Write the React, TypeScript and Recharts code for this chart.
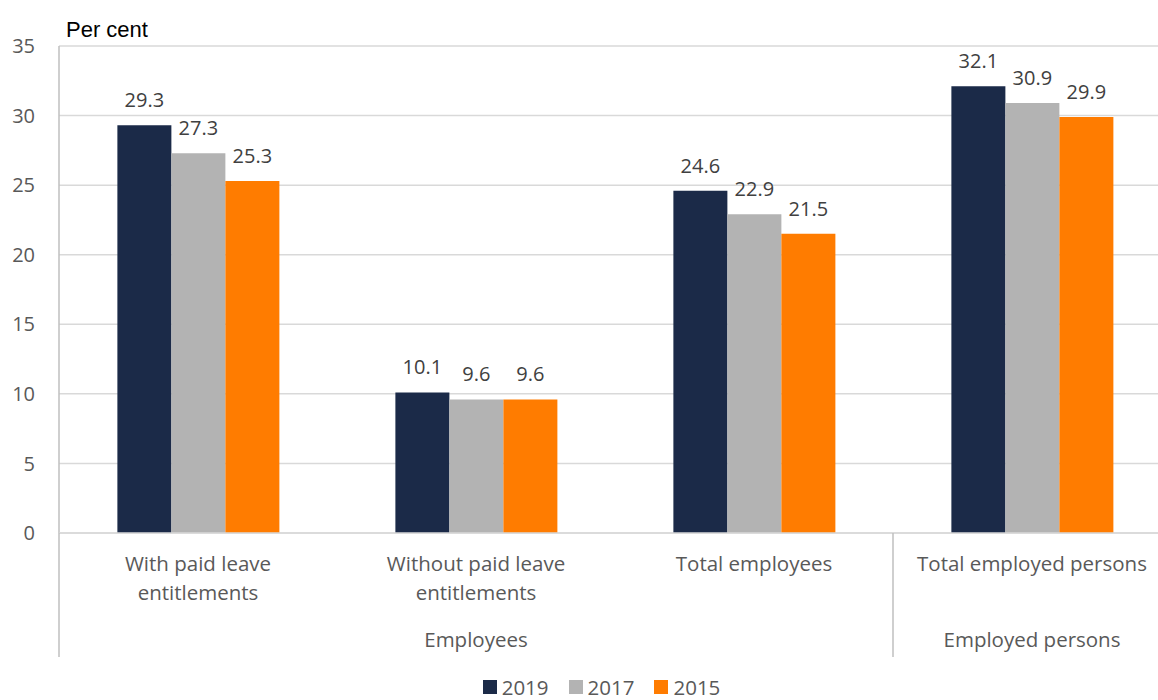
import { Bar, BarChart, CartesianGrid, LabelList, Legend, XAxis, YAxis } from 'recharts'

const categories = [
  'With paid leave entitlements',
  'Without paid leave entitlements',
  'Total employees',
  'Total employed persons',
]
const categoryLines = [
  ['With paid leave', 'entitlements'],
  ['Without paid leave', 'entitlements'],
  ['Total employees'],
  ['Total employed persons'],
]
const groups = ['Employees', 'Employees', 'Employees', 'Employed persons']

const years = ['2019', '2017', '2015']
const values2019 = [29.3, 10.1, 24.6, 32.1]
const values2017 = [27.3, 9.6, 22.9, 30.9]
const values2015 = [25.3, 9.6, 21.5, 29.9]
const yTicks = [0, 5, 10, 15, 20, 25, 30, 35]

const colors = ['#1b2a48', '#b3b3b3', '#ff7c00']
const font = '"Open Sans", sans-serif'

const data = categories.map((c, i) => ({
  category: c,
  v2019: values2019[i],
  v2017: values2017[i],
  v2015: values2015[i],
}))

const CHART_W = 1171
const CHART_H = 700
const Y_AXIS_W = 59
const BAND = (CHART_W - Y_AXIS_W) / categories.length

function CategoryTick(props: any) {
  const { x, y, payload } = props
  const i = categories.indexOf(payload.value)
  const lines = categoryLines[i] || []
  const g = groups[i]
  const start = groups.indexOf(g)
  const end = groups.lastIndexOf(g)
  return (
    <g>
      {lines.map((l, k) => (
        <text key={k} x={x} y={y + 38 + k * 29} textAnchor='middle' fill='#595959' fontSize={20.5} fontFamily={font}>
          {l}
        </text>
      ))}
      {i === start && (
        <>
          <line x1={x - BAND / 2} x2={x - BAND / 2} y1={y} y2={y + 124} stroke='#bfbfbf' strokeWidth={1.5} />
          <text x={x + ((end - start) / 2) * BAND} y={y + 114} textAnchor='middle' fill='#595959' fontSize={20.5} fontFamily={font}>
            {g}
          </text>
        </>
      )}
    </g>
  )
}

function LegendContent() {
  return (
    <div style={{ height: 43, display: 'flex', justifyContent: 'center', paddingLeft: 52, boxSizing: 'border-box' }}>
      <div style={{ display: 'flex', alignItems: 'center', marginTop: 17, height: 26, fontFamily: font, fontSize: 20.5, color: '#595959' }}>
        {years.map((yr, k) => (
          <div key={yr} style={{ display: 'flex', alignItems: 'center', marginRight: 20 }}>
            <span style={{ display: 'inline-block', width: 14, height: 14, background: colors[k], marginRight: 5 }} />
            <span>{yr}</span>
          </div>
        ))}
      </div>
    </div>
  )
}

function PerCentLabel(props: any) {
  const { viewBox } = props
  return (
    <text x={viewBox.x + viewBox.width + 7} y={viewBox.y - 9} fill='#000' fontSize={22} fontFamily='"Liberation Sans", Arial, sans-serif'>
      Per cent
    </text>
  )
}

export default function App() {
  return (
    <div style={{ position: 'absolute', left: 0, top: 0, width: 1158, height: 700, overflow: 'hidden', background: '#fff' }}>
      <BarChart
        width={CHART_W}
        height={CHART_H}
        data={data}
        margin={{ top: 46, right: 0, bottom: 0, left: 0 }}
        barCategoryGap='21%'
        barGap={0}
      >
        <CartesianGrid vertical={false} stroke='#d9d9d9' strokeWidth={1.5} />
        <YAxis
          width={Y_AXIS_W}
          domain={[0, 35]}
          ticks={yTicks}
          tickLine={false}
          tickSize={0}
          tickMargin={24}
          axisLine={{ stroke: '#bfbfbf', strokeWidth: 1.5 }}
          tick={{ fill: '#595959', fontSize: 20, fontFamily: font }}
          label={{ content: PerCentLabel }}
        />
        <XAxis
          dataKey='category'
          height={124}
          interval={0}
          tickLine={false}
          tickSize={0}
          tickMargin={0}
          axisLine={{ stroke: '#d9d9d9', strokeWidth: 1.5 }}
          tick={CategoryTick}
        />
        <Legend verticalAlign='bottom' content={LegendContent} />
        {years.map((yr, k) => (
          <Bar key={yr} dataKey={'v' + yr} name={yr} fill={colors[k]} isAnimationActive={false}>
            <LabelList
              dataKey={'v' + yr}
              position='top'
              offset={18}
              fill='#404040'
              fontSize={20}
              fontFamily={font}
              formatter={(v: any) => Number(v).toFixed(1)}
            />
          </Bar>
        ))}
      </BarChart>
    </div>
  )
}
